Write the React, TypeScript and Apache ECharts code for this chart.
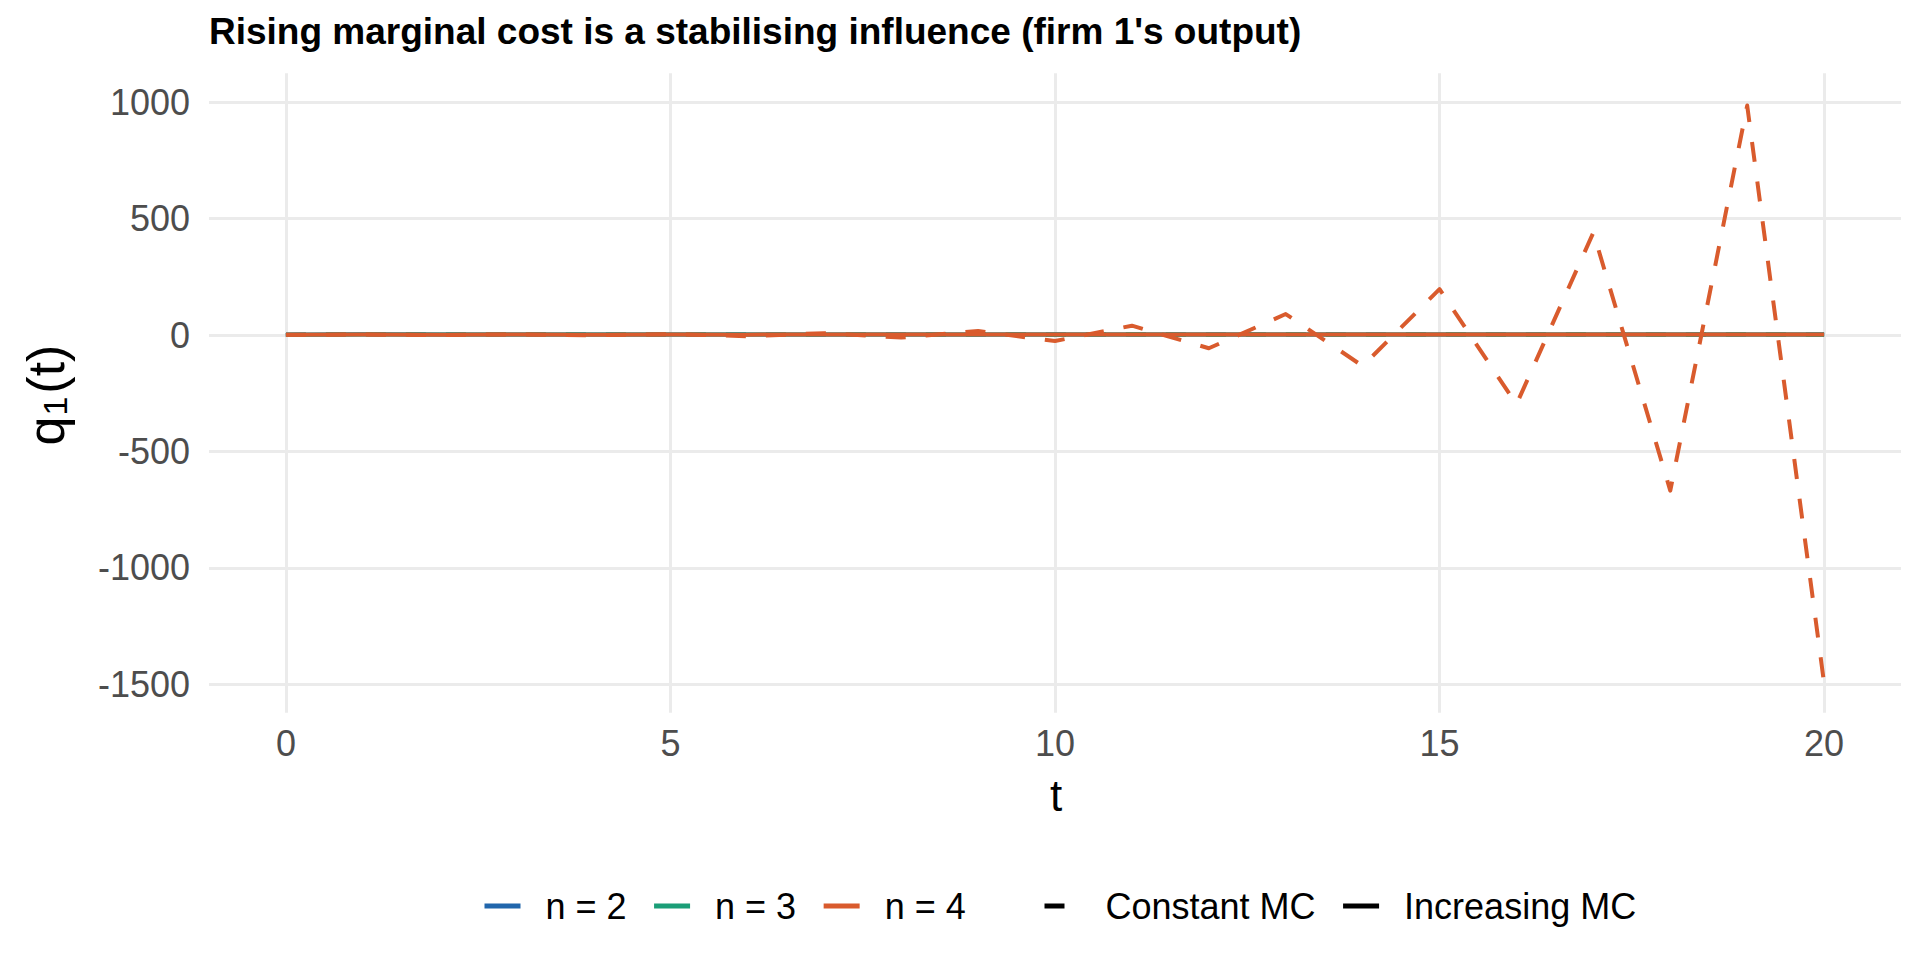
import React, { useEffect, useRef } from "react";
import * as echarts from "echarts";

// ---------- data ----------
const tValues = [0, 1, 2, 3, 4, 5, 6, 7, 8, 9, 10, 11, 12, 13, 14, 15, 16, 17, 18, 19, 20];
const xTicks = [0, 5, 10, 15, 20];
const yTicks = [-1500, -1000, -500, 0, 500, 1000];

// Constant marginal cost (dashed)
const n2Constant = [1, 3.5, 2.3, 2.8, 2.6, 2.7, 2.65, 2.67, 2.66, 2.67, 2.67, 2.67, 2.67, 2.67, 2.67, 2.67, 2.67, 2.67, 2.67, 2.67, 2.67];
const n3Constant = [1, 3, 1, 3, 1, 3, 1, 3, 1, 3, 1, 3, 1, 3, 1, 3, 1, 3, 1, 3, 1];
const n4Constant = [1, 2, 0, 3, -1, 4, -5, 8, -11, 17, -26, 40, -57, 90, -133, 197, -298, 440, -668, 985, -1495];

// Increasing marginal cost (solid)
const n2Increasing = [1, 2.8, 2.3, 2.45, 2.4, 2.42, 2.41, 2.41, 2.41, 2.41, 2.41, 2.41, 2.41, 2.41, 2.41, 2.41, 2.41, 2.41, 2.41, 2.41, 2.41];
const n3Increasing = [1, 2.4, 1.8, 2.05, 1.95, 2.0, 1.98, 1.99, 1.99, 1.99, 1.99, 1.99, 1.99, 1.99, 1.99, 1.99, 1.99, 1.99, 1.99, 1.99, 1.99];
const n4Increasing = [1, 2.1, 1.4, 1.8, 1.55, 1.7, 1.62, 1.66, 1.64, 1.65, 1.65, 1.65, 1.65, 1.65, 1.65, 1.65, 1.65, 1.65, 1.65, 1.65, 1.65];

const groupNames = ["n = 2", "n = 3", "n = 4"];
const mcNames = ["Constant MC", "Increasing MC"];
const groupColors = ["#2166AC", "#1B9E77", "#D95B2D"];

const titleText = "Rising marginal cost is a stabilising influence (firm 1's output)";

const FONT = "'Liberation Sans', Arial, Helvetica, sans-serif";
const DASH = [20, 20];

function pairs(ys: number[]) {
  return tValues.map((t, i) => [t, ys[i]]);
}

export default function App() {
  const ref = useRef<HTMLDivElement>(null);

  useEffect(() => {
    const el = ref.current;
    if (!el) return;
    const chart = echarts.init(el, null, { renderer: "svg" });

    const dataSets = [
      { g: 0, mc: 0, ys: n2Constant },
      { g: 0, mc: 1, ys: n2Increasing },
      { g: 1, mc: 0, ys: n3Constant },
      { g: 1, mc: 1, ys: n3Increasing },
      { g: 2, mc: 0, ys: n4Constant },
      { g: 2, mc: 1, ys: n4Increasing },
    ];

    const dataSeries = dataSets.map((d) => ({
      name: groupNames[d.g] + " / " + mcNames[d.mc],
      type: "line",
      data: pairs(d.ys),
      symbol: "none",
      showSymbol: false,
      silent: true,
      color: groupColors[d.g],
      lineStyle: {
        color: groupColors[d.g],
        width: 4,
        type: d.mc === 0 ? DASH : "solid",
        cap: "butt",
        join: "round",
      },
    }));

    const legendSeries = [
      ...groupNames.map((n, i) => ({
        name: n,
        type: "line",
        data: [],
        symbol: "none",
        color: groupColors[i],
        lineStyle: { color: groupColors[i], width: 5, type: "solid" },
      })),
      ...mcNames.map((n, i) => ({
        name: n,
        type: "line",
        data: [],
        symbol: "none",
        color: "#000000",
        lineStyle: { color: "#000000", width: 5, type: i === 0 ? DASH : "solid" },
      })),
    ];

    const legendCommon = {
      orient: "horizontal",
      top: 883,
      itemWidth: 36,
      itemHeight: 14,
      itemGap: 25,
      selectedMode: false,
      itemStyle: { opacity: 0 },
      lineStyle: { width: 5 },
      textStyle: { fontSize: 36, color: "#000000", fontFamily: FONT, padding: [0, 0, 0, 20] },
    };

    const plainNumber = (v: number) => String(v);

    const option = {
      animation: false,
      backgroundColor: "#ffffff",
      grid: { left: 209, right: 19, top: 73.3, bottom: 247.3, containLabel: false },
      xAxis: {
        type: "value",
        min: -1,
        max: 21,
        axisLine: { show: false },
        axisTick: { show: false, customValues: xTicks },
        axisLabel: {
          customValues: xTicks,
          formatter: plainNumber,
          margin: 13,
          fontSize: 36,
          color: "#4D4D4D",
          fontFamily: FONT,
        },
        splitLine: { show: true, lineStyle: { color: "#EBEBEB", width: 3 } },
      },
      yAxis: {
        type: "value",
        min: -1621.6,
        max: 1123.6,
        axisLine: { show: false },
        axisTick: { show: false, customValues: yTicks },
        axisLabel: {
          customValues: yTicks,
          formatter: plainNumber,
          margin: 19,
          fontSize: 36,
          color: "#4D4D4D",
          fontFamily: FONT,
        },
        splitLine: { show: true, lineStyle: { color: "#EBEBEB", width: 3 } },
      },
      legend: [
        { ...legendCommon, left: 477, data: groupNames },
        { ...legendCommon, left: 1037, data: mcNames },
      ],
      graphic: [
        {
          type: "text",
          left: 209,
          top: 13,
          style: {
            text: titleText,
            fontSize: 37,
            fontWeight: "bold",
            fill: "#000000",
            fontFamily: FONT,
          },
        },
        {
          type: "text",
          x: 1056,
          y: 795,
          style: {
            text: "t",
            fontSize: 44,
            fill: "#000000",
            fontFamily: FONT,
            align: "center",
            verticalAlign: "middle",
          },
        },
        {
          type: "text",
          x: 46,
          y: 395,
          rotation: Math.PI / 2,
          style: {
            text: "{a|q}{b|1}{a|(t)}",
            fill: "#000000",
            fontFamily: FONT,
            align: "center",
            verticalAlign: "middle",
            rich: {
              a: { fontSize: 52, fontFamily: FONT, fill: "#000000" },
              b: { fontSize: 34, fontFamily: FONT, fill: "#000000", verticalAlign: "bottom", padding: [0, 3, 0, 1] },
            },
          },
        },
      ],
      series: [...dataSeries, ...legendSeries],
    };

    chart.setOption(option as any);
    return () => chart.dispose();
  }, []);

  return (
    <div
      ref={ref}
      style={{ position: "fixed", left: 0, top: 0, width: 1920, height: 960, background: "#ffffff" }}
    />
  );
}
